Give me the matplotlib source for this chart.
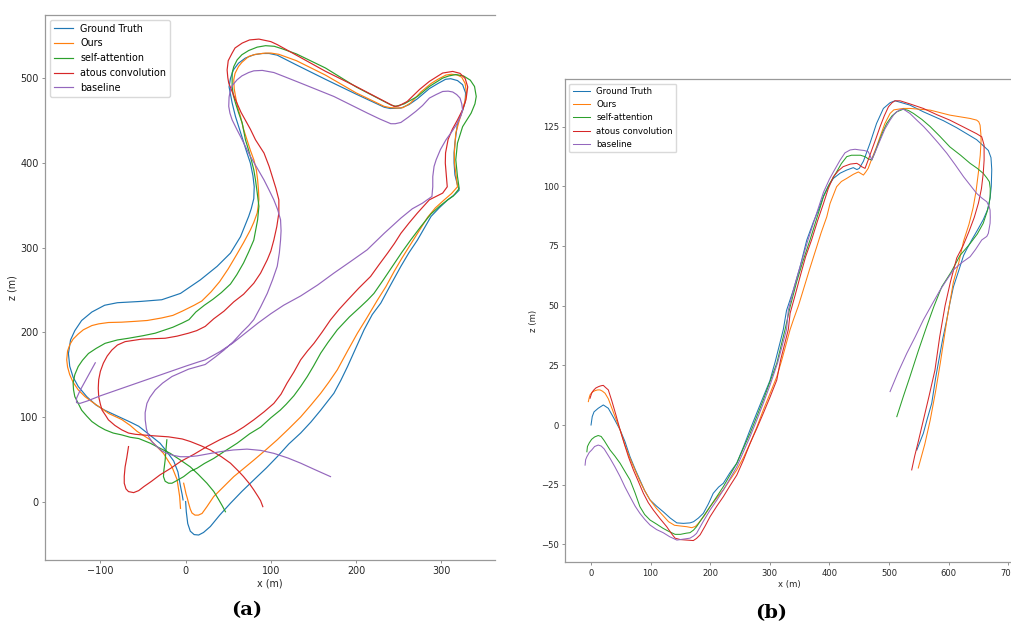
import numpy as np
import matplotlib
matplotlib.use("Agg")
import matplotlib.pyplot as plt

labels = ["Ground Truth", "Ours", "self-attention", "atous convolution", "baseline"]
colors = ["#1f77b4", "#ff7f0e", "#2ca02c", "#d62728", "#9467bd"]

# ---- panel (a): x / z trajectories (m) ----
a_gt = np.array([
    [0, 0], [0.8, -12], [2.5, -26], [5.5, -35], [10, -39], [15.3, -39.5], [21, -36.5], [29, -29.5],
    [40, -16], [52.6, -2], [66, 12], [80, 25.6], [95, 40], [107.5, 53], [121, 68], [135, 81],
    [147, 94], [158.5, 108], [167, 119], [174, 128], [182, 143], [190, 159.6], [200, 182],
    [209.4, 203], [219, 221], [229, 234.5], [240, 255], [252.6, 278], [262, 294], [272, 309],
    [280, 323], [288, 337], [298, 347.5], [307.6, 356.6], [316, 363], [321, 368], [319, 374],
    [316, 386], [315, 400], [315, 412], [316, 424], [319, 447], [325, 462], [328, 472],
    [328.5, 483], [325, 492.6], [319, 497.5], [311, 499.7], [305, 499], [296, 494], [286, 488],
    [272, 476], [262, 469], [252.6, 465], [240, 464.5], [233, 466], [200, 481.5], [164, 499],
    [130, 516], [107.5, 527.5], [98, 529.5], [90, 529.5], [80, 528], [70, 524], [62, 518],
    [56, 510], [52.6, 500], [51, 490], [54.6, 471], [58.5, 455], [66.4, 430], [72, 412],
    [76, 400], [79, 385], [80.5, 372], [80, 358], [77, 346], [74, 337], [64.4, 313],
    [52.6, 293.6], [37, 278], [17.3, 262], [-6, 246], [-28, 238.5], [-53, 236.5], [-80, 235],
    [-95, 232], [-110, 224], [-122, 214], [-130, 202], [-135, 191], [-137.5, 175], [-136, 160],
    [-132, 147], [-126, 136], [-116, 124], [-105, 114], [-95, 108], [-80, 101], [-65, 94],
    [-55, 89], [-40, 77], [-30, 69], [-22, 59], [-14, 48], [-9, 35], [-6, 18], [-4, 8], [-3, 2]])

a_ours = np.array([
    [-2.3, 21.7], [-1, 16], [0.5, 9], [2, 4], [3.5, -2], [5.5, -9], [7.5, -13.5], [11, -16],
    [15, -16], [19.3, -14], [25, -6], [33, 6], [45, 18], [56.5, 29.5], [68, 39], [80, 49],
    [94, 61], [107.5, 73], [121, 86], [135, 100], [147, 114], [158.5, 128], [168, 141],
    [178, 155.7], [190, 178], [201.6, 199], [212, 216], [225, 238], [235, 254], [244.7, 272],
    [254, 288], [264, 304], [274, 320], [284, 336], [293, 347], [303.5, 356.6], [312, 364],
    [319, 372], [318, 380], [317, 388], [315.5, 400], [315.3, 412], [317, 435.5], [321, 450],
    [325, 463], [328, 474], [329.5, 483], [328, 494], [324, 501.5], [319, 504], [312, 505],
    [305.5, 504], [296, 499], [288, 494], [276, 484], [264, 471], [255, 465.5], [249, 465],
    [240, 465.5], [233, 467], [200, 483], [164, 504], [130, 521], [109.4, 528.5], [100, 530],
    [93.8, 530], [82, 528.5], [74, 526], [66, 519], [62, 514], [58, 506], [56.5, 498.5],
    [57, 488], [58.5, 479], [61, 466], [64.4, 455], [68, 440], [72, 427.5], [76, 415], [80, 404],
    [83, 392], [84.5, 380], [85.5, 368], [86, 357], [85, 348], [84, 341], [80, 330], [76, 321],
    [68, 306], [60, 292], [50, 275], [40, 260], [30, 248], [19, 237], [10, 232], [-4, 225],
    [-15, 220], [-28, 217], [-45, 214], [-59, 213], [-75, 212], [-90.6, 211.6], [-102, 210],
    [-110, 208], [-120, 203], [-126, 198], [-132, 192], [-135.6, 186], [-138.5, 178],
    [-139.5, 167.5], [-138.5, 159], [-136, 150], [-132, 141], [-126, 132], [-118, 124],
    [-110, 118], [-100, 111], [-90, 104], [-75, 97], [-65, 90], [-57, 83], [-41.5, 73],
    [-26, 57], [-16, 41], [-10, 26], [-7, 6], [-6, -8]])

a_sa = np.array([
    [-22, 73], [-23, 62], [-24, 49], [-25.5, 37], [-26, 29.5], [-24, 24], [-20, 21.7],
    [-16, 21.7], [-10, 25], [-2.3, 29.5], [6, 36], [13.4, 39.4], [22, 45], [33, 51], [45, 59],
    [60.5, 69], [75, 80], [88, 88], [100, 99], [111, 108], [118, 115], [127, 125], [135, 136],
    [142.8, 147.8], [150, 160], [158.5, 175.4], [167, 188], [178, 203], [192, 218],
    [205.5, 230.5], [213.4, 238], [221, 246], [232, 262], [244, 280], [254, 295], [264, 309],
    [276, 325], [288, 340], [298, 349], [307.6, 356.6], [314, 361], [321, 370], [319, 384],
    [317, 404], [319, 423.7], [325, 443], [335, 459], [339.5, 470], [341, 478.7], [339, 490.5],
    [334, 498], [326, 503], [317, 504.6], [309, 503], [301.6, 500.4], [286, 490.5],
    [272, 478.7], [256.5, 470], [246.6, 467], [240.8, 468.7], [200, 490], [164, 512.4],
    [130, 529], [113.4, 535], [104, 538], [93.8, 538.7], [84, 537], [74, 533], [66, 528],
    [60.5, 522], [56.5, 514], [54.6, 506.4], [54.6, 490.5], [56, 480], [58.5, 471], [62, 460],
    [66.4, 447.3], [70.2, 427.5], [74, 415], [77, 404], [80, 392], [82, 380], [84, 365],
    [86, 349], [84.5, 333], [80, 309], [74, 295], [68, 282], [60, 268], [52.6, 257], [42, 247],
    [32, 239], [22, 232], [12, 224], [4, 215], [-4, 211], [-15, 206], [-35.6, 199], [-50, 196],
    [-67, 193], [-80, 191], [-94.5, 187], [-105, 181], [-114, 175], [-121, 167], [-126, 159.6],
    [-130, 150], [-132, 140], [-131.5, 132], [-130, 124], [-126, 116], [-122, 108], [-116, 101],
    [-110, 94.6], [-102, 89], [-94.5, 84.8], [-85, 81], [-75, 78.8], [-65, 76], [-55, 74.5],
    [-41.5, 69], [-30, 63], [-18, 57], [-6, 49], [5.5, 41], [15, 32], [25, 21.7], [33, 12],
    [39, 2], [43, -5], [46.7, -12]])

a_ac = np.array([
    [-67, 65], [-69, 52], [-71, 41], [-72, 30], [-72, 21.7], [-70, 15], [-67, 11.8],
    [-61, 10.6], [-55, 13], [-49, 17.7], [-40, 24], [-30, 31.6], [-18, 39], [-6, 47.3],
    [10, 56], [25, 65], [40, 73], [56.5, 80.8], [68, 88], [80, 96.6], [92, 106], [103.5, 116],
    [112, 127], [119, 140], [127, 153], [135, 167.5], [143, 178], [150.6, 187], [160, 200],
    [170, 214.7], [180, 227], [190, 238], [203, 252], [217, 266], [227, 280], [237, 293.6],
    [245, 305], [252.6, 317], [262, 329], [272, 341], [286, 356.6], [301.6, 364.5], [307, 372],
    [306, 384], [304.7, 400], [305, 412], [308, 428], [313, 440], [319, 451], [325, 463],
    [329, 475], [331, 490], [328, 500], [322, 506], [313.4, 508.3], [301.6, 506.4],
    [292, 500.4], [286, 496.5], [274.5, 487], [260, 472.8], [250, 467.5], [244.7, 467],
    [200, 490.5], [164, 508.5], [130, 527.5], [107.5, 540], [100, 543.5], [86, 546.5],
    [75, 545.5], [66.4, 541.8], [58, 536], [54.6, 530], [50, 521], [48.7, 510], [49.5, 501],
    [50.6, 494.5], [54, 486], [58.5, 474.8], [65, 460], [72, 447.3], [76, 440], [82, 427.5],
    [92, 411.8], [98, 396], [101.7, 384], [106, 370], [109.4, 356.6], [109.4, 341], [107, 325],
    [103.5, 309], [100, 296], [95.8, 285.7], [88, 270], [80, 258], [68, 245], [56.5, 236],
    [45, 225], [33, 216], [23, 207], [13, 202], [3.5, 199], [-10, 195.5], [-24, 193],
    [-51.3, 192], [-71, 189], [-80, 185], [-86.6, 179], [-92, 172], [-96.5, 163.6], [-100, 154],
    [-102, 144], [-102.5, 134], [-102, 124], [-100, 115], [-98, 108], [-94, 102], [-90.6, 96.6],
    [-83, 90], [-75, 84.8], [-67, 81], [-59, 79.5], [-41.5, 78], [-20, 76.5], [-4, 74],
    [5.5, 71], [18, 66], [29, 61], [42, 53], [52.6, 45.4], [62, 36], [68, 29.5], [75, 21],
    [80, 13.8], [85, 6], [88, 1], [90.6, -6]])

a_base = np.array([
    [-106, 164], [-112, 153], [-118, 142], [-124, 131], [-128, 122], [-128, 117], [-124, 116],
    [-115, 119], [-100, 125], [-80, 132], [-60, 139], [-40, 146], [-20, 153], [0, 160],
    [15, 165], [23, 167.5], [40, 177], [55, 187], [70, 199], [85, 211], [100, 222], [115, 232],
    [135, 243], [155, 256], [174, 270], [194, 284], [213, 297.5], [233, 317], [252.6, 335],
    [266, 346], [278, 352.7], [289, 360.5], [290, 372], [290, 384], [291.5, 396], [294, 404],
    [299, 416], [305.5, 427.5], [313, 438], [319, 447.3], [323, 456], [325, 463], [324, 470],
    [322, 476.8], [318, 481], [313.4, 484], [308, 485], [301.6, 484.6], [294, 481],
    [286, 476.8], [278, 468], [270, 461], [261, 454], [252.6, 448], [246, 446.5],
    [240.8, 446.5], [228, 452], [213.4, 459], [174, 478.7], [135, 494.5], [115, 502.5],
    [103.5, 507], [90, 509.5], [80, 509], [74, 507], [66, 503], [60.5, 498.5], [55, 492],
    [52.6, 486.6], [51, 478], [50.6, 467], [52, 459], [54.6, 451], [60, 440], [64.4, 431.4],
    [70, 420], [76, 407.8], [84, 394], [92, 380], [98, 368], [103.5, 356.6], [108, 345],
    [111.4, 333], [112, 320], [111.4, 309], [110, 294], [107.5, 278], [102, 262], [95.8, 246],
    [88, 230], [80, 215], [74, 208], [66, 200], [56, 189], [45, 179], [35, 171], [23, 162],
    [3.5, 156.5], [-16, 147.8], [-27, 140], [-35.6, 132], [-42, 123], [-45.4, 116],
    [-47.5, 105], [-47.4, 96.6], [-46, 86], [-43.5, 77], [-39, 70], [-33.6, 65], [-28, 60],
    [-22, 57], [-14, 54.5], [-6, 53], [3, 53], [13.4, 54], [27, 56.5], [41, 59], [56, 61],
    [72, 62], [88, 60.5], [103.5, 57], [120, 51.5], [135, 45.4], [150, 38.5], [160, 34],
    [170, 29.5]])

# ---- panel (b) ----
b_gt = np.array([
    [0, 0], [2, 3.5], [5, 5.5], [12, 7], [20.6, 8.4], [29, 7], [38, 3], [48.7, -2], [57, -7],
    [65.4, -13.3], [74, -18.5], [82, -23], [90, -27.5], [99, -31.4], [110, -34], [121, -36.3],
    [133, -39], [144, -41], [155, -41.2], [166, -41], [172, -40.5], [180, -39], [188.4, -37],
    [197, -33], [205, -28.6], [214, -26], [222, -24.4], [233, -20], [244.5, -16], [256, -9],
    [266.8, -2], [278, 5], [289, 11.8], [300, 18.5], [309, 26.5], [322.6, 40], [328, 48],
    [340, 57], [350.7, 66.3], [362, 77.5], [373, 85], [383, 91], [390, 96], [398, 100],
    [406.6, 103.3], [418, 105.5], [429, 106.8], [440, 107.8], [446, 107], [450, 107.5],
    [457, 110.5], [468, 118], [479, 126.3], [490.5, 132.6], [501.7, 135], [510, 135.8],
    [518.5, 135.2], [535, 134], [557.5, 131.2], [591, 127.5], [613.6, 124.5], [647, 119.5],
    [658, 117], [666.6, 115], [671, 112], [672.3, 107], [671.5, 100], [669.5, 95], [665, 90],
    [658, 86], [648, 81.5], [638.7, 77.5], [630, 73.5], [625, 71], [616, 64], [608, 57.9],
    [602, 51], [596.8, 44], [590, 36], [585.6, 30], [578, 19.5], [571.6, 9.1], [564, 2.5],
    [557.5, -3.5], [552, -7], [546.5, -10.5]])

b_ours = np.array([
    [-4.5, 9.8], [-3, 11.5], [-1.7, 12.6], [2, 13.8], [6.7, 14.4], [11, 14.7], [15, 14.7],
    [19, 14.2], [23.5, 13.3], [29, 11], [38, 5], [48.7, -2], [57, -8.5], [65.4, -14], [74, -19],
    [82, -23.5], [90, -27.5], [99, -31.4], [110, -35], [121, -38], [130, -40.5], [140, -42],
    [150, -42.3], [160.6, -42.6], [169, -43], [175, -42.5], [180, -41.2], [190, -38],
    [199.7, -34.2], [211, -30.5], [222, -27.2], [233, -23], [244.5, -18.8], [256, -13.5],
    [266.8, -7.7], [278, -1], [289, 6.3], [300, 13], [311.6, 20.2], [320, 27.2], [334, 40],
    [339.4, 44], [348, 50], [356, 56.5], [367, 65.5], [378.7, 74.7], [386, 80.5], [395.5, 87.2],
    [401, 92.8], [412, 99.8], [420, 102], [429, 103.3], [440, 105], [448.5, 106], [453, 105.3],
    [457, 104.7], [461, 106], [465, 107.5], [471, 111.5], [479, 116.5], [486, 121.5],
    [493, 126.3], [501.7, 130.5], [508, 132], [513, 132.2], [524, 132.6], [535, 132.6],
    [569, 131.9], [602, 129.8], [636, 128.4], [647, 127.7], [650.5, 127], [652.7, 125.6],
    [654, 122], [654.4, 119.3], [653, 113], [650, 106], [646, 98], [641, 91], [634, 84],
    [625, 77], [617, 68], [608, 60], [597, 44], [586, 26], [578, 14], [569, 2], [560, -8],
    [549, -18]])

b_sa = np.array([
    [-7, -11.2], [-6, -9], [-3, -7.5], [1, -6], [6, -5], [12, -4.4], [17, -4.8], [22, -6.5],
    [32, -10.5], [40, -13], [48.7, -16], [57, -19.5], [65.4, -23], [74, -28.5], [82, -34.2],
    [90, -37.5], [99, -39.8], [110, -41.5], [121, -43.3], [130, -44.5], [141, -45.8],
    [150, -45.8], [160, -45.3], [166, -45.1], [172, -44], [177, -42.6], [188, -38.5],
    [199.7, -34.2], [211, -30], [222, -25.8], [233, -21], [244.5, -16], [256, -9.5],
    [266.8, -3.5], [278, 3.5], [289, 10.5], [300, 18], [311.6, 25.8], [325.5, 40], [334, 49.5],
    [345, 60], [356, 69], [367.4, 77.5], [378, 86], [390, 95.6], [400, 101], [412, 106],
    [420, 109.5], [429, 112.4], [437, 113], [445.8, 113], [452, 113], [459.7, 112.4],
    [465, 111.5], [471, 111], [476, 114], [482, 118], [489, 122.5], [496, 126.3], [505, 129.5],
    [513, 131.2], [524, 132.3], [532, 131.8], [541, 130.5], [555, 128], [569, 125], [585, 121],
    [602, 116.5], [620, 113], [636, 109.6], [648, 107.5], [658, 105.4], [664, 103.5],
    [668.3, 101.9], [669.8, 99], [669.5, 95.5], [667.5, 92], [664, 89], [658, 84.5], [648, 80],
    [636, 76], [619, 71], [604, 64], [588.4, 57.9], [575, 49.5], [563, 41.2], [549, 31],
    [535, 20.2], [524, 12], [513, 3.5]])

b_ac = np.array([
    [-1.7, 11.2], [0, 12.5], [1, 13.3], [4, 14.5], [8, 15.5], [12, 16], [15, 16.3], [18, 16.5],
    [20.6, 16.6], [24, 15.8], [29, 14.7], [35, 10], [42, 4], [48.7, -2], [56, -8], [63, -13.5],
    [71, -18.8], [80, -24], [87.8, -28.6], [96, -32.5], [104.5, -35.6], [115, -39], [127, -42.6],
    [135, -45.5], [141, -47.4], [150, -48], [160.6, -48.2], [171.6, -48.4], [177, -47.5],
    [183, -46], [191, -42.5], [199.7, -38.4], [211, -34], [222, -30], [233, -25.5],
    [244.5, -21], [256, -14.5], [266.8, -7.7], [278, -1.5], [289, 4.9], [300, 11.5],
    [311.6, 18.8], [318, 27.2], [331, 40], [334, 46.8], [342, 54], [350.7, 62.1], [360, 70.5],
    [370, 77.5], [380, 85.5], [390, 92.8], [398, 99], [406.6, 104], [415, 106.5], [423, 108.2],
    [435, 109.3], [445.8, 109.6], [450, 109], [454, 108.2], [459.7, 107.5], [465, 111],
    [471, 115.2], [478, 120], [485, 125], [492, 129.5], [499, 133.3], [505, 135], [510, 135.8],
    [518.5, 135.8], [535, 134.5], [557.5, 132.6], [580, 130], [602, 127.7], [625, 124.8],
    [647, 122], [655.5, 120.7], [659.4, 117.3], [659.5, 111], [658, 105.4], [655, 99],
    [650, 93], [643, 87], [634, 81], [624, 75], [613.6, 70], [603, 60], [594, 50], [585, 37],
    [577, 23], [567, 12], [557.5, 2], [548, -8], [543, -13], [538, -18.8]])

b_base = np.array([
    [-10, -16.8], [-9, -14.5], [-7, -13.3], [-3, -11.5], [1, -10.5], [6, -9], [12, -8.4],
    [17, -8.8], [22, -10], [32, -14], [40, -17.5], [48.7, -21.6], [57, -26], [65.4, -30],
    [74, -34], [82, -37], [90, -39.5], [99, -41.9], [110, -43.8], [121, -45.1], [132, -46.8],
    [144, -48.2], [155, -47.8], [166, -47.4], [172, -46.5], [177, -45.4], [188, -40.5],
    [199.7, -35.6], [211, -31.5], [222, -27.2], [233, -22.5], [244.5, -17.5], [256, -11],
    [266.8, -4.9], [278, 2], [289, 9.1], [300, 16.5], [313, 26], [328, 40], [331, 48.1],
    [340, 57], [350.7, 66.3], [364, 77.5], [375, 86], [390, 97.5], [400, 103], [406.6, 106],
    [418, 111], [426, 114], [434.6, 115.2], [443, 115.5], [451, 115.2], [458, 115],
    [465, 114.5], [468, 113], [471, 111], [477, 114.5], [485, 119.3], [493, 124], [501.7, 127.7],
    [508, 130], [513, 131.2], [518, 132], [524, 132.3], [535, 130.5], [546.5, 127.7],
    [558, 125], [569, 122], [583, 118], [597, 113.8], [611, 109], [625, 104], [636, 100.5],
    [647, 97], [656, 95], [664, 93.5], [668, 91.5], [669.5, 90], [669.8, 87], [669.5, 84.5],
    [666.6, 80.3], [664, 79], [655.5, 77.5], [645, 73.5], [636, 70.5], [622, 68], [608, 65],
    [596, 60.5], [585.6, 56.5], [572, 50.5], [557.5, 44], [544, 37], [529.7, 30], [515, 22],
    [501.7, 14]])

panel_a = [a_gt, a_ours, a_sa, a_ac, a_base]
panel_b = [b_gt, b_ours, b_sa, b_ac, b_base]

fig = plt.figure(figsize=(10.11, 6.24), dpi=100)
ax1 = fig.add_axes([0.0445, 0.1026, 0.4451, 0.8734])
ax2 = fig.add_axes([0.5589, 0.0989, 0.4437, 0.7740])


def style(ax, fs, lw, series, xlim, ylim, xt, yt):
    for s, c, lab in zip(series, colors, labels):
        ax.plot(s[:, 0], s[:, 1], color=c, lw=lw, label=lab)
    ax.set_xlim(*xlim)
    ax.set_ylim(*ylim)
    ax.set_xticks(xt)
    ax.set_yticks(yt)
    for sp in ax.spines.values():
        sp.set_color("0.6")
        sp.set_linewidth(0.9)
    ax.spines["right"].set_visible(False)
    ax.tick_params(labelsize=fs, length=2.5, width=0.6, color="0.5",
                   labelcolor="0.15", pad=2)
    ax.set_xlabel("x (m)", fontsize=fs, color="0.15", labelpad=1.5)
    ax.set_ylabel("z (m)", fontsize=fs, color="0.15", labelpad=2)
    ax.legend(loc="upper left", fontsize=fs, framealpha=1, edgecolor="0.85",
              handlelength=2.0)


style(ax1, 6.9, 0.85, panel_a, (-165, 363), (-69, 575),
      [-100, 0, 100, 200, 300], [0, 100, 200, 300, 400, 500])
style(ax2, 6.1, 0.75, panel_b, (-43.6, 709), (-57.5, 144.8),
      [0, 100, 200, 300, 400, 500, 600, 700], [-50, -25, 0, 25, 50, 75, 100, 125])

fig.text(247 / 1011, 1 - 610 / 624, "(a)", ha="center", va="center",
         fontsize=14, fontweight="bold", family="DejaVu Serif")
fig.text(771 / 1011, 1 - 613 / 624, "(b)", ha="center", va="center",
         fontsize=14, fontweight="bold", family="DejaVu Serif")

fig.savefig("out.png", dpi=100)
